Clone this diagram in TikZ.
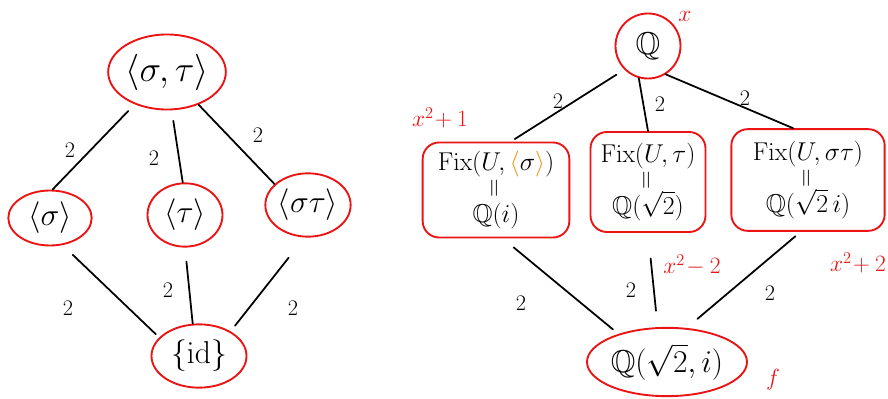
\RequirePackage{fix-cm}
\documentclass[tikz,border=0pt]{standalone}
\usepackage{amssymb}
\usepackage{xcolor}
\usetikzlibrary{shapes.geometric}
\definecolor{inkred}{RGB}{235,20,20}
\definecolor{inkorange}{RGB}{240,150,20}
\begin{document}
\begin{tikzpicture}[x=0.03cm, y=-0.03cm,
  grp/.style={draw=inkred, line width=1.6pt, ellipse, inner sep=0pt, font=\fontsize{27}{30}\selectfont},
  fld/.style={draw=inkred, line width=1.6pt, rounded corners=14pt, align=center, inner sep=0pt,
              font=\fontsize{22}{24}\selectfont},
  conn/.style={line width=1.5pt, line cap=round},
  lbl/.style={font=\fontsize{19}{20}\selectfont, inner sep=0pt},
  poly/.style={text=inkred, font=\fontsize{20}{22}\selectfont, inner sep=0pt}]
\useasboundingbox (0,0) rectangle (888,399);
\fill[white] (0,0) rectangle (888,399);

% subgroup lattice of the Galois group
\node[grp, minimum width=3.4cm, minimum height=2.25cm, font=\fontsize{31}{34}\selectfont] (G) at (167,72) {$\langle\sigma,\tau\rangle$};
\node[grp, minimum width=2.5cm, minimum height=1.65cm] (S) at (50,218) {$\langle\sigma\rangle$};
\node[grp, minimum width=2.25cm, minimum height=1.9cm] (T) at (185,215) {$\langle\tau\rangle$};
\node[grp, minimum width=2.15cm, minimum height=1.9cm] (ST) at (308,205) {$\langle\sigma\tau\rangle$};
\node[grp, minimum width=2.85cm, minimum height=1.9cm] (I) at (199,356) {$\{\mathrm{id}\}$};

\draw[conn, shorten <=8pt] (G.225) -- (S.85);
\draw[conn, shorten <=9pt] (G.277) -- (T.94);
\draw[conn] (G.314) -- (ST.148);
\draw[conn, shorten <=12pt, shorten >=4pt] (S.295) -- (I.155);
\draw[conn, shorten <=12pt] (T.270) -- (I.101);
\draw[conn, shorten <=22pt, shorten >=6pt] (ST.264) -- (I.38);

\node[lbl] (gs) at (70,150) {2};
\node[lbl] (gt) at (154,158) {2};
\node[lbl] (gst) at (258,135) {2};
\node[lbl] (si) at (68,308) {2};
\node[lbl] (ti) at (168,290) {2};
\node[lbl] (sti) at (293,308) {2};

% lattice of intermediate fields
\node[grp, circle, minimum size=1.95cm] (Q) at (648,46) {$\mathbb{Q}$};
\node[fld, minimum width=4.4cm, minimum height=2.85cm] (F1) at (496,190)
  {$\mathrm{Fix}(U,{\color{inkorange}\langle}\sigma{\color{inkorange}\rangle})$\\[-1pt]
   \rotatebox{90}{$=$}\\[-3pt] $\mathbb{Q}(i)$};
\node[fld, minimum width=3.45cm, minimum height=3.0cm] (F2) at (648,182)
  {$\mathrm{Fix}(U,\tau)$\\[-1pt] \rotatebox{90}{$=$}\\[-3pt] $\mathbb{Q}(\sqrt{2})$};
\node[fld, minimum width=4.6cm, minimum height=3.05cm] (F3) at (808,180)
  {$\mathrm{Fix}(U,\sigma\tau)$\\[-1pt] \rotatebox{90}{$=$}\\[-3pt] $\mathbb{Q}(\sqrt{2}\,i)$};
\node[grp, minimum width=4.8cm, minimum height=2.05cm] (E) at (667,362) {$\mathbb{Q}(\sqrt{2},i)$};

\draw[conn, shorten <=8pt, shorten >=4pt] (Q.225) -- (F1.73);
\draw[conn] (Q.254) -- (F2.90);
\draw[conn] (Q.302) -- (F3.106);
\draw[conn, shorten <=12pt, shorten >=6pt] (F1.278) -- (E.150);
\draw[conn, shorten <=22pt, shorten >=14pt] (F2.270) -- (E.105);
\draw[conn, shorten <=6pt, shorten >=12pt] (F3.262) -- (E.60);

\node[lbl] (qf1) at (558,101) {2};
\node[lbl] (qf2) at (660,104) {2};
\node[lbl] (qf3) at (745,98) {2};
\node[lbl] (f1e) at (521,303) {2};
\node[lbl] (f2e) at (631,290) {2};
\node[lbl] (f3e) at (770,293) {2};

% minimal polynomials
\node[poly] (p0) at (685,16) {$x$};
\node[poly] (p1) at (440,118) {$x^2\!+1$};
\node[poly] (p2) at (692,265) {$x^2\!-2$};
\node[poly] (p3) at (858,263) {$x^2\!+2$};
\node[poly] (p4) at (773,380) {$f$};
\end{tikzpicture}
\end{document}
